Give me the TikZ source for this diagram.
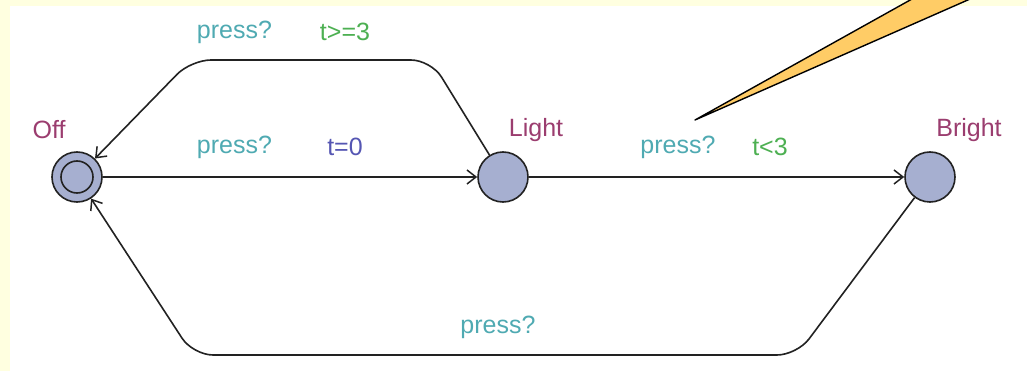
\documentclass[tikz,border=0pt]{standalone}
\usepackage{fontspec}
\setmainfont{Liberation Sans}
\usetikzlibrary{arrows.meta}
\definecolor{bgyellow}{HTML}{FFFFE0}
\definecolor{locfill}{HTML}{A6AFD0}
\definecolor{locname}{HTML}{9B3D6F}
\definecolor{synccol}{HTML}{4FAAB2}
\definecolor{guardcol}{HTML}{4DB052}
\definecolor{assigncol}{HTML}{5556B3}
\definecolor{notecol}{HTML}{FFCC66}
\definecolor{edgecol}{HTML}{222222}
\tikzset{
  loc/.style={circle, minimum size=50pt, inner sep=0pt, fill=locfill, draw=edgecol, line width=1.6pt},
  locin/.style={circle, minimum size=32pt, inner sep=0pt, draw=edgecol, line width=1.6pt},
  lbl/.style={inner sep=0pt, font=\fontsize{25}{30}\selectfont},
  lname/.style={lbl, text=locname},
  lsync/.style={lbl, text=synccol},
  lguard/.style={lbl, text=guardcol},
  lassign/.style={lbl, text=assigncol},
  edge/.style={draw=edgecol, line width=1.6pt, -{Straight Barb[length=9pt,width=14pt,line width=1.5pt]}},
}
\begin{document}
\begin{tikzpicture}[x=1pt,y=-1pt]
\useasboundingbox (0,0) rectangle (1027,371);
\fill[bgyellow] (0,0) rectangle (1027,371);
\fill[white] (10,6) rectangle (1027,371);
% note callout
\begin{scope}
\clip (0,0) rectangle (1027,371);
\coordinate (tip) at (695,120);
\filldraw[fill=notecol, draw=black, line width=1.4pt, line join=round] (tip) -- (964,-30) -- (1036,-30) -- cycle;
\end{scope}
% locations
\node[loc] (Off) at (77,177) {};
\node[locin] (Offin) at (77,177) {};
\node[loc] (Light) at (503,177) {};
\node[loc] (Bright) at (930,177) {};
\node[lname] (offname) at (49,130) {Off};
\node[lname] (lightname) at (536,130) {Light};
\node[lname] (brightname) at (969,130) {Bright};
% edges
\draw[edge] (Off) -- (Light);
\draw[edge] (Light) -- (Bright);
\draw[edge, rounded corners=20pt] (Light) -- (431,60) -- (191,60) -- (Off);
\draw[edge, rounded corners=20pt] (Bright) -- (797,355) -- (193,355) -- (Off);
% edge labels
\node[lsync] (s1) at (234.5,32) {press?};
\node[lguard] (g1) at (345,32) {t>=3};
\node[lsync] (s2) at (234.5,147) {press?};
\node[lassign] (a2) at (345,147) {t=0};
\node[lsync] (s3) at (678,147) {press?};
\node[lguard] (g3) at (770,147) {t<3};
\node[lsync] (s4) at (498,327) {press?};
\end{tikzpicture}
\end{document}
